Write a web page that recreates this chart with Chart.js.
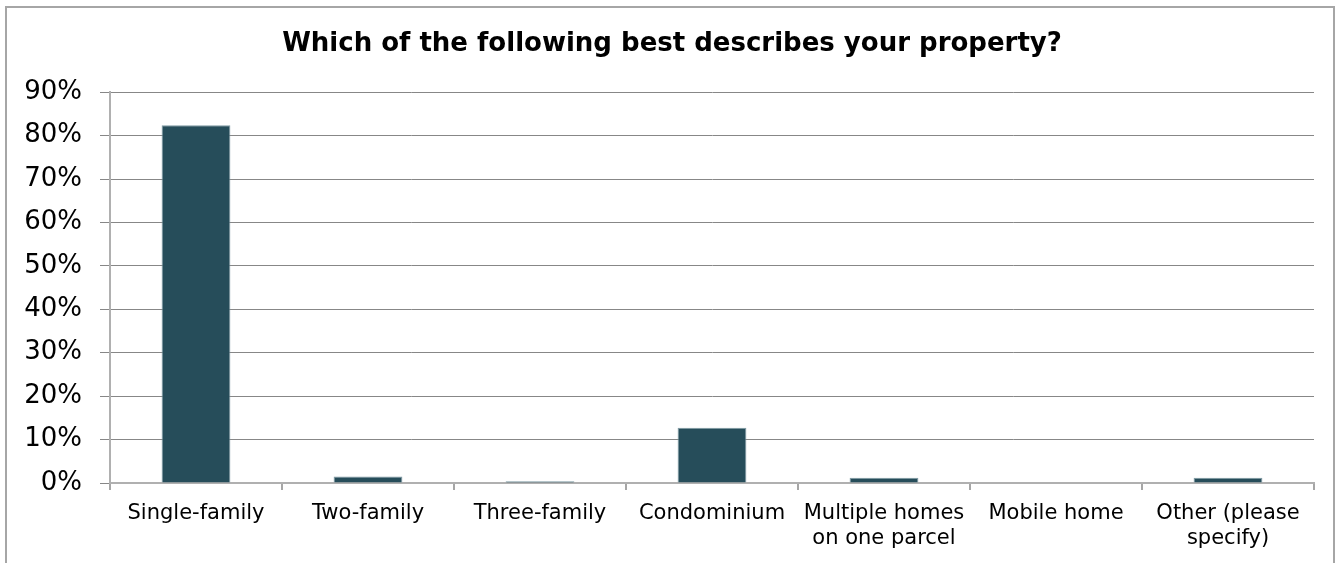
<!DOCTYPE html>
<html lang="en">
<head>
<meta charset="UTF-8">
<title>Property type</title>
<script src="https://cdn.jsdelivr.net/npm/chart.js"></script>
<style>
    html, body { margin: 0; padding: 0; background: #fff; }
    body { width: 1344px; height: 563px; position: relative; overflow: hidden; }
    .frame { position: absolute; left: 5px; top: 6px; width: 1330px; height: 620px; border: 2px solid #a6a6a6; box-sizing: border-box; }
    #wrap { position: absolute; left: 0; top: 0; width: 1344px; height: 563px; }
</style>
</head>
<body>
<div class="frame"></div>
<div id="wrap"><canvas id="propertyChart"></canvas></div>
<script>
    const categories = [
        'Single-family',
        'Two-family',
        'Three-family',
        'Condominium',
        ['Multiple homes', 'on one parcel'],
        'Mobile home',
        ['Other (please', 'specify)']
    ];
    const percentages = [82.4, 1.5, 0.4, 12.7, 1.2, 0, 1.2];
    const yTicks = [0, 10, 20, 30, 40, 50, 60, 70, 80, 90];

    const FONT = "'DejaVu Sans', Verdana, sans-serif";

    new Chart(document.getElementById('propertyChart'), {
        type: 'bar',
        data: {
            labels: categories,
            datasets: [{
                data: percentages,
                backgroundColor: '#264d5a',
                borderColor: '#7f9aa4',
                borderWidth: 1,
                categoryPercentage: 0.4,
                barPercentage: 1
            }]
        },
        options: {
            responsive: true,
            maintainAspectRatio: false,
            animation: false,
            layout: { padding: 0 },
            plugins: {
                legend: { display: false },
                tooltip: { enabled: false },
                title: {
                    display: true,
                    text: 'Which of the following best describes your property?',
                    color: '#000',
                    font: { family: FONT, size: 26, weight: 'bold', lineHeight: 1.2 },
                    padding: { top: 29, bottom: 32 }
                }
            },
            scales: {
                x: {
                    grid: {
                        offset: true,
                        drawOnChartArea: false,
                        drawTicks: true,
                        tickLength: 7,
                        color: '#a6a6a6',
                        lineWidth: 2
                    },
                    border: { color: '#b0b0b0', width: 2 },
                    ticks: {
                        color: '#000',
                        padding: 11,
                        maxRotation: 0,
                        autoSkip: false,
                        font: { family: FONT, size: 21, lineHeight: 1.2 }
                    },
                    afterFit: (scale) => { scale.height = 80; }
                },
                y: {
                    min: 0,
                    max: 90,
                    afterBuildTicks: (scale) => { scale.ticks = yTicks.map(v => ({ value: v })); },
                    grid: { color: '#878787', lineWidth: 1, tickLength: 10 },
                    border: { color: '#b0b0b0', width: 2 },
                    ticks: {
                        color: '#000',
                        padding: 18,
                        font: { family: FONT, size: 26 },
                        callback: (v) => v + '%'
                    },
                    afterFit: (scale) => { scale.width = 110; }
                },
                // empty axis on the right keeps the plot clear of the frame
                spacer: {
                    type: 'linear',
                    position: 'right',
                    grid: { display: false },
                    border: { display: false },
                    ticks: { display: false },
                    afterFit: (scale) => { scale.width = 30; }
                }
            }
        }
    });
</script>
</body>
</html>
